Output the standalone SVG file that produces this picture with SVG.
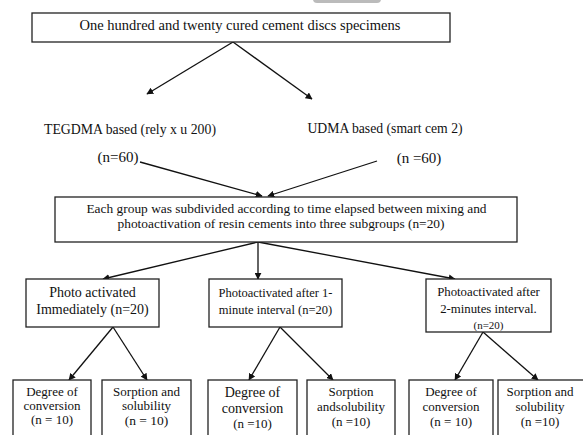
<svg xmlns="http://www.w3.org/2000/svg" width="583" height="435" viewBox="0 0 583 435">
<defs>
<style>
.box{fill:#fff;stroke:#222;stroke-width:1.3}
.t{font-family:"Liberation Serif","Times New Roman",serif;fill:#111;text-anchor:middle}
.c{stroke:#111;stroke-width:1.3;fill:none;marker-end:url(#ah)}
</style>
<marker id="ah" viewBox="0 0 10 10" refX="9" refY="5" markerWidth="7" markerHeight="7" markerUnits="userSpaceOnUse" orient="auto">
<path d="M0,0 L10,5 L0,10 z" fill="#111"/>
</marker>
</defs>
<rect width="583" height="435" fill="#fff"/>
<rect x="313" y="-6" width="68" height="9" rx="4" fill="#bbb"/>
<g id="connectors">
<line class="c" x1="233" y1="42" x2="147" y2="94"/>
<line class="c" x1="233" y1="42" x2="312" y2="99"/>
<line class="c" x1="140" y1="162" x2="262" y2="196"/>
<line class="c" x1="377" y1="161" x2="268" y2="196"/>
<line class="c" x1="258" y1="242" x2="103" y2="279"/>
<line class="c" x1="258" y1="242" x2="258" y2="279"/>
<line class="c" x1="258" y1="242" x2="455" y2="279"/>
<line class="c" x1="113" y1="327" x2="69" y2="380"/>
<line class="c" x1="113" y1="327" x2="147" y2="380"/>
<line class="c" x1="280" y1="327" x2="249" y2="380"/>
<line class="c" x1="280" y1="327" x2="333" y2="380"/>
<line class="c" x1="483" y1="332" x2="455" y2="380"/>
<line class="c" x1="483" y1="332" x2="538" y2="380"/>
</g>
<g id="root">
<rect class="box" x="32" y="13" width="418" height="29"/>
<text class="t" x="240" y="30" font-size="14.5">One hundred and twenty cured cement discs specimens</text>
</g>
<g id="tegdma">
<text class="t" x="130" y="134" font-size="13.8">TEGDMA based (rely x u 200)</text>
<text class="t" x="118" y="162" font-size="15">(n=60)</text>
</g>
<g id="udma">
<text class="t" x="385" y="133" font-size="13.7">UDMA based (smart cem 2)</text>
<text class="t" x="419" y="163" font-size="15">(n =60)</text>
</g>
<g id="subdivide">
<rect class="box" x="55" y="197" width="462" height="45"/>
<text class="t" x="286.5" y="213" font-size="13.4">Each group was subdivided according to time elapsed between mixing and</text>
<text class="t" x="281" y="228" font-size="13.4">photoactivation of resin cements into three subgroups (n=20)</text>
</g>
<g id="immediate">
<rect class="box" x="26" y="279" width="133" height="48"/>
<text class="t" x="92.5" y="297" font-size="14">Photo activated</text>
<text class="t" x="92.5" y="314" font-size="14">Immediately (n=20)</text>
</g>
<g id="after1">
<rect class="box" x="209" y="279" width="133" height="48"/>
<text class="t" x="275.5" y="297" font-size="12.5">Photoactivated after 1-</text>
<text class="t" x="275.5" y="314" font-size="12.5">minute interval (n=20)</text>
</g>
<g id="after2">
<rect class="box" x="426" y="279" width="125" height="53"/>
<text class="t" x="488.5" y="296" font-size="12.8">Photoactivated after</text>
<text class="t" x="488.5" y="313" font-size="12.8">2-minutes interval.</text>
<text class="t" x="488.5" y="329" font-size="11">(n=20)</text>
</g>
<g id="dc1">
<rect class="box" x="13" y="380" width="78" height="60"/>
<text class="t" x="52" y="396" font-size="13">Degree of</text>
<text class="t" x="52" y="410" font-size="13">conversion</text>
<text class="t" x="52" y="424" font-size="13">(n = 10)</text>
</g>
<g id="ss1">
<rect class="box" x="102" y="380" width="89" height="60"/>
<text class="t" x="146.5" y="396" font-size="13">Sorption and</text>
<text class="t" x="146.5" y="410" font-size="13">solubility</text>
<text class="t" x="146.5" y="425" font-size="13.5">(n = 10)</text>
</g>
<g id="dc2">
<rect class="box" x="208" y="380" width="89" height="60"/>
<text class="t" x="252.5" y="397" font-size="14">Degree of</text>
<text class="t" x="252.5" y="413" font-size="14">conversion</text>
<text class="t" x="252.5" y="428" font-size="13">(n =10)</text>
</g>
<g id="ss2">
<rect class="box" x="307" y="380" width="88" height="60"/>
<text class="t" x="351" y="396" font-size="13">Sorption</text>
<text class="t" x="351" y="411" font-size="13">andsolubility</text>
<text class="t" x="351" y="426" font-size="13">(n =10)</text>
</g>
<g id="dc3">
<rect class="box" x="409" y="380" width="84" height="60"/>
<text class="t" x="451" y="396" font-size="13">Degree of</text>
<text class="t" x="451" y="411" font-size="13">conversion</text>
<text class="t" x="451" y="426" font-size="13">(n = 10)</text>
</g>
<g id="ss3">
<rect class="box" x="498" y="380" width="86" height="60"/>
<text class="t" x="540" y="396" font-size="13">Sorption and</text>
<text class="t" x="540" y="411" font-size="13">solubility</text>
<text class="t" x="540" y="426" font-size="13">(n =10)</text>
</g>
</svg>
